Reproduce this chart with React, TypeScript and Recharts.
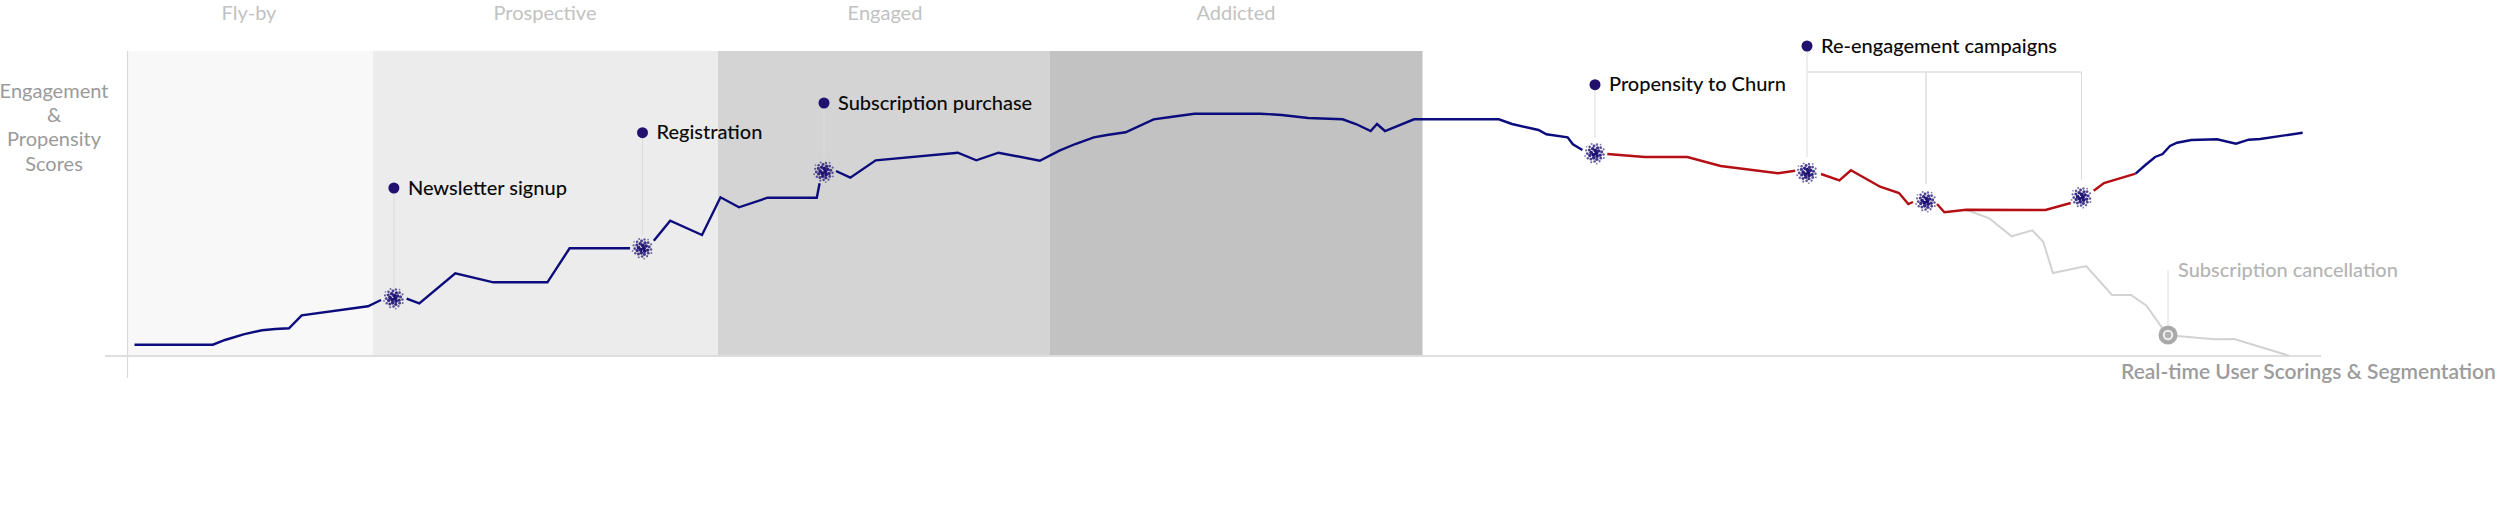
import {
  ComposedChart,
  Line,
  XAxis,
  YAxis,
  ReferenceArea,
  ReferenceLine,
  ReferenceDot,
} from "recharts"

const WIDTH = 2500
const HEIGHT = 508
const NAVY = "#0c0c7c"
const RED = "#b40f14"
const GREY_LINE = "#d2d2d2"
const RULE = "#dcdcdc"
const FONT = "Lato, sans-serif"

// time on x, score on y (null = gap around a marker)
const earlyTimes = [134.5, 212.8, 225, 243.5, 262, 275.3, 289, 301.7, 368, 381, 394, 406.6, 419.3, 455.3, 493.4, 547.4, 569.6, 630, 642, 653.8, 670.2, 702, 720.5, 739, 767.6, 816.8, 819.6, 824, 836, 850.3, 875.7, 957.8, 976.3, 998.5, 1039.8, 1059.4, 1075.3, 1093.8, 1107, 1125.6, 1153.6, 1170.6, 1194.4, 1260.6, 1281.7, 1308.2, 1342.6, 1355.9, 1370.7, 1377, 1385, 1414, 1498.8, 1512, 1538.5, 1546.4, 1567.6, 1572.9, 1582.4]
const earlyScores = [11.3, 11.3, 16, 21.7, 25.7, 27, 27.7, 40.7, 49.7, 56, null, 57.3, 52.7, 82.7, 73.7, 73.7, 107.7, 107.7, null, 115.3, 135.3, 121, 158.7, 148.7, 158.3, 158.3, 172.7, null, 185, 178.3, 195.7, 203.3, 195.7, 203.3, 195.3, 205.3, 212, 218.7, 221, 223.7, 236.7, 239, 242.3, 242.3, 241, 238, 236.7, 232, 225, 232, 225, 236.7, 236.7, 232, 226, 221.7, 218.7, 211.7, 206]

const churnTimes = [1607.3, 1644.8, 1687.3, 1720.6, 1778, 1795.2, 1808, 1821, 1839.4, 1850.9, 1880.1, 1899, 1908.3, 1913, 1926, 1937, 1944.4, 1966.2, 2045.5, 2070.7, 2081, 2093.7, 2104, 2135.6]
const churnScores = [202, 199, 199, 190, 182.7, 185.3, null, 182, 175.7, 185.7, 169.3, 163, 152, 154, null, 152, 143.7, 146.3, 146, 153, null, 165.3, 173, 182.3]

const recoveryTimes = [2135.6, 2145.4, 2155.1, 2162.6, 2170, 2177, 2191.3, 2217.1, 2236, 2248.7, 2260.2, 2302.7]
const recoveryScores = [182.3, 191, 199, 202, 210, 213.3, 216, 216.7, 212.3, 216.3, 217, 223.3]

const lostTimes = [1966.2, 1989.2, 2011.6, 2032.3, 2043.2, 2052.9, 2086.2, 2112, 2131, 2146.5, 2167.2, 2176.9, 2214.2, 2234.3, 2289]
const lostScores = [146.3, 137.7, 119.7, 125.7, 114.3, 83, 90, 61, 61, 50.3, 21, 20, 16.7, 17, 0.3]

// lifecycle stages
const stageNames = ["Fly-by", "Prospective", "Engaged", "Addicted"]
const stageStarts = [127.6, 373, 718, 1050]
const stageEnds = [373, 718, 1050, 1422.5]
const stageFills = ["#f8f8f8", "#ececec", "#d4d4d4", "#c2c2c2"]
const stageLabelTimes = [249, 545, 885, 1236]

// events
const eventNames = ["Newsletter signup", "Registration", "Subscription purchase", "Propensity to Churn", "Re-engagement campaigns"]
const eventTimes = [393.9, 642.5, 824, 1595, 1807]
const eventLabelScores = [168, 223.3, 253, 271.3, 310]
const eventStemEnds = [68, 121, 199, 218, 199]
const eventMarkerScores = [57.7, 107.7, 184.3, 202.7, 183.3]

const campaignTimes = [1926, 2081.5]
const campaignMarkerScores = [154.7, 158.7]

const yAxisLines = ["Engagement", "&", "Propensity", "Scores"]
const yAxisLineScores = [265.5, 241.5, 217, 192]

const toRows = (times: number[], scores: (number | null)[]) =>
  times.map((t, i) => ({ t, score: scores[i] }))

function Label({ cx, cy, text, color = "#000", size = 20, weight = 400, anchor = "start" }: any) {
  return (
    <text x={cx} y={cy} dy="0.35em" fill={color} fontSize={size} fontWeight={weight} fontFamily={FONT} textAnchor={anchor}>
      {text}
    </text>
  )
}

// dotted sunflower used for event markers
function Cluster({ cx, cy }: any) {
  const count = 34
  return (
    <g>
      {Array.from({ length: count }, (_, i) => {
        const radius = 1.85 * Math.sqrt(i + 0.5)
        const a = i * 2.39996
        const share = i / count
        return (
          <circle
            key={i}
            cx={cx + Math.cos(a) * radius}
            cy={cy + Math.sin(a) * radius}
            r={2 - share * 1.2}
            fill="#1b0f72"
            opacity={1 - share * 0.5}
          />
        )
      })}
    </g>
  )
}

function CancelMarker({ cx, cy }: any) {
  return (
    <g>
      <circle cx={cx} cy={cy} r={9.5} fill="#a9a9a9" />
      <circle cx={cx} cy={cy} r={4.2} fill="#b0b0b0" stroke="#efefef" strokeWidth={2} />
    </g>
  )
}

function Series({ rows, color, width = 2.4 }: any) {
  return <Line data={rows} dataKey="score" stroke={color} strokeWidth={width} dot={false} activeDot={false} isAnimationActive={false} />
}

export default function App() {
  const line = (x1: number, y1: number, x2: number, y2: number, key: string, color = RULE, w = 1) => (
    <ReferenceLine
      key={key}
      segment={[{ x: x1, y: y1 }, { x: x2, y: y2 }]}
      stroke={color}
      strokeWidth={w}
      ifOverflow="visible"
    />
  )
  return (
    <div style={{ position: "absolute", left: 0, top: 0, width: WIDTH, height: HEIGHT }}>
      <ComposedChart width={WIDTH} height={HEIGHT} margin={{ top: 0, right: 0, bottom: 0, left: 0 }}>
        <XAxis type="number" dataKey="t" domain={[0, WIDTH]} hide allowDataOverflow />
        <YAxis type="number" domain={[-152, 356]} hide allowDataOverflow />

        {stageNames.map((name, i) => (
          <ReferenceArea key={name} x1={stageStarts[i]} x2={stageEnds[i]} y1={0} y2={305} fill={stageFills[i]} fillOpacity={1} stroke="none" />
        ))}

        {line(127.6, -22, 127.6, 305, "y-axis", "#d4d4d4")}
        {line(105, 0, 2321, 0, "x-axis", "#dedede", 2)}

        {eventNames.map((name, i) => line(eventTimes[i], eventLabelScores[i], eventTimes[i], eventStemEnds[i], `stem-${name}`))}
        {line(1807, 284, 2081.5, 284, "campaign-bar", "#e0e0e0", 1.5)}
        {line(campaignTimes[0], 284, campaignTimes[0], 172, "campaign-1", "#dddddd", 1.5)}
        {line(campaignTimes[1], 284, campaignTimes[1], 176, "campaign-2")}
        {line(2168, 86, 2168, 31, "cancel-stem")}

        <Series rows={toRows(lostTimes, lostScores)} color={GREY_LINE} width={2} />
        <Series rows={toRows(earlyTimes, earlyScores)} color={NAVY} />
        <Series rows={toRows(churnTimes, churnScores)} color={RED} />
        <Series rows={toRows(recoveryTimes, recoveryScores)} color={NAVY} />

        {eventNames.map((name, i) => (
          <ReferenceDot key={`marker-${name}`} x={eventTimes[i]} y={eventMarkerScores[i]} ifOverflow="visible" shape={(p: any) => <Cluster {...p} />} />
        ))}
        {campaignTimes.map((t, i) => (
          <ReferenceDot key={`campaign-${t}`} x={t} y={campaignMarkerScores[i]} ifOverflow="visible" shape={(p: any) => <Cluster {...p} />} />
        ))}
        <ReferenceDot x={2168} y={21} ifOverflow="visible" shape={(p: any) => <CancelMarker {...p} />} />

        {eventNames.map((name, i) => (
          <ReferenceDot key={`dot-${name}`} x={eventTimes[i]} y={eventLabelScores[i]} r={5.5} fill="#22106e" stroke="none" ifOverflow="visible" />
        ))}
        {eventNames.map((name, i) => (
          <ReferenceDot key={`label-${name}`} x={eventTimes[i] + 14} y={eventLabelScores[i] + 0.5} ifOverflow="visible"
            shape={(p: any) => <Label {...p} text={name} color="#0a0a0a" weight={500} />} />
        ))}

        {stageNames.map((name, i) => (
          <ReferenceDot key={`stage-${name}`} x={stageLabelTimes[i]} y={343} ifOverflow="visible"
            shape={(p: any) => <Label {...p} text={name} color="#c2c2c2" anchor="middle" />} />
        ))}
        {yAxisLines.map((text, i) => (
          <ReferenceDot key={`y-${text}`} x={54} y={yAxisLineScores[i]} ifOverflow="visible"
            shape={(p: any) => <Label {...p} text={text} color="#9a9a9a" anchor="middle" />} />
        ))}
        <ReferenceDot x={2178} y={86} ifOverflow="visible"
          shape={(p: any) => <Label {...p} text="Subscription cancellation" color="#b4b4b4" weight={500} />} />
        <ReferenceDot x={2121} y={-16} ifOverflow="visible"
          shape={(p: any) => <Label {...p} text="Real-time User Scorings & Segmentation" color="#9c9c9c" size={21} weight={600} />} />
      </ComposedChart>
    </div>
  )
}
